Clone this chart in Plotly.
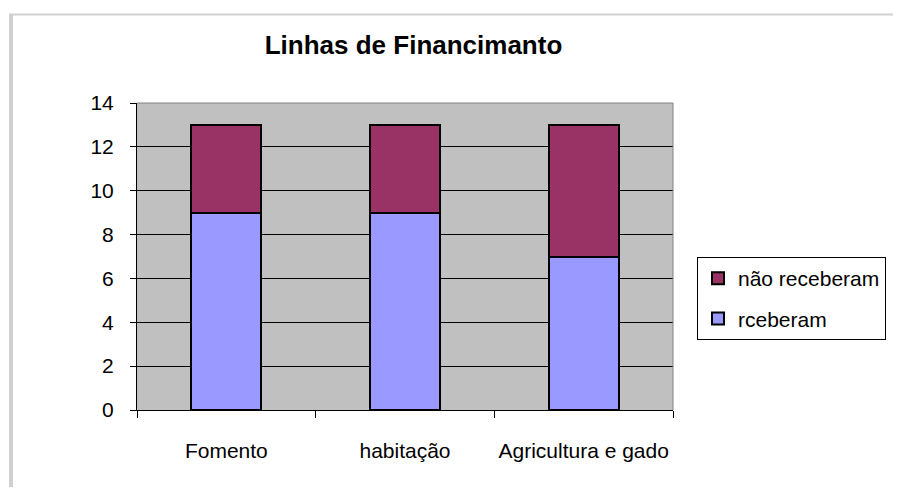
import plotly.graph_objects as go

categories = ["Fomento", "habitação", "Agricultura e gado"]
receberam = [9, 9, 7]
nao_receberam = [4, 4, 6]
y_ticks = [0, 2, 4, 6, 8, 10, 12, 14]

FONT = "Liberation Sans, Arial, sans-serif"
OFF = 8  # page offset of the figure inside the browser window

fig = go.Figure()
fig.add_trace(go.Bar(
    x=categories, y=receberam, name="rceberam", legendgroup="a", legendrank=2,
    marker=dict(color="#9999FF", line=dict(color="black", width=2)),
    width=0.39,
))
fig.add_trace(go.Bar(
    x=categories, y=nao_receberam, name="não receberam", legendgroup="b", legendrank=1,
    marker=dict(color="#993366", line=dict(color="black", width=2)),
    width=0.39,
))

W, H = 901 - 2 * OFF, 495 - 2 * OFF
L, T = 137 - OFF, 103 - OFF
Rpx, Bpx = 673 - OFF, 410 - OFF

def px_to_paper_x(px):
    return (px - OFF - L) / (Rpx - L)

def px_to_paper_y(py):
    return (Bpx - (py - OFF)) / (Bpx - T)

fig.update_layout(
    width=W, height=H,
    margin=dict(l=L, r=W - Rpx, t=T, b=H - Bpx, autoexpand=False),
    barmode="stack",
    paper_bgcolor="white",
    plot_bgcolor="#C0C0C0",
    font=dict(family=FONT, size=21, color="black"),
    title=dict(text="<b>Linhas de Financimanto</b>", x=((254 + 573) / 2 - OFF) / W, xanchor="center",
               y=1 - (45 - OFF) / H, yanchor="middle", font=dict(size=26, family=FONT)),
    showlegend=True,
    legend=dict(
        x=px_to_paper_x(697), y=px_to_paper_y(257), xanchor="left", yanchor="top",
        bordercolor="black", borderwidth=1, bgcolor="white",
        traceorder="grouped", tracegroupgap=10,
        font=dict(size=21, family=FONT),
        itemwidth=30,
    ),
    xaxis=dict(
        type="category", tickson="boundaries", ticks="outside", ticklen=7,
        tickcolor="black", showline=True, linecolor="black", linewidth=1,
        showgrid=False, tickfont=dict(size=21), ticklabelstandoff=22,
        tickangle=0, automargin=False,
    ),
    yaxis=dict(
        range=[0, 14], tickvals=y_ticks, ticks="outside", ticklen=6,
        tickcolor="black", showline=True, linecolor="black", linewidth=1,
        showgrid=True, gridcolor="black", gridwidth=1, zeroline=False,
        tickfont=dict(size=21), ticklabelstandoff=12, automargin=False,
    ),
    shapes=[
        dict(type="line", xref="paper", yref="paper", x0=0, x1=1, y0=1, y1=1,
             line=dict(color="#808080", width=1)),
        dict(type="line", xref="paper", yref="paper", x0=1, x1=1, y0=0, y1=1,
             line=dict(color="#808080", width=1)),
        dict(type="line", xref="paper", yref="paper",
             x0=px_to_paper_x(9), x1=px_to_paper_x(920), y0=px_to_paper_y(14.5), y1=px_to_paper_y(14.5),
             line=dict(color="#D0D0D0", width=2), layer="below"),
        dict(type="line", xref="paper", yref="paper",
             x0=px_to_paper_x(11), x1=px_to_paper_x(11), y0=px_to_paper_y(14), y1=px_to_paper_y(520),
             line=dict(color="#D0D0D0", width=4), layer="below"),
    ],
)

fig.write_html("out.html")
